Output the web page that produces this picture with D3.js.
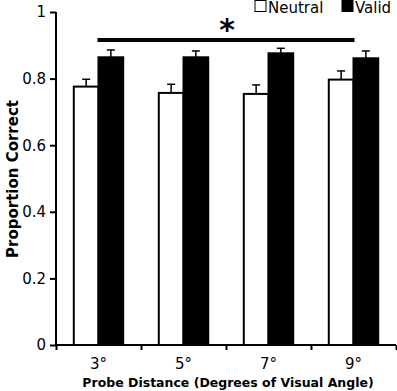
<!DOCTYPE html>
<html>
<head>
<meta charset="utf-8">
<script src="https://cdn.jsdelivr.net/npm/d3@7"></script>
<style>
  body { margin: 0; background: #fff; }
  text { font-family: "DejaVu Sans", Verdana, sans-serif; }
</style>
</head>
<body>
<div id="chart"></div>
<script>
const w = 397
const h = 391

const categories = ['3°', '5°', '7°', '9°']
const series = ['Neutral', 'Valid']
const neutral = [0.776, 0.757, 0.754, 0.797]
const valid = [0.864, 0.864, 0.876, 0.861]
const neutralErr = [0.022, 0.026, 0.027, 0.026]
const validErr = [0.022, 0.019, 0.015, 0.022]
const yTicks = [0, 0.2, 0.4, 0.6, 0.8, 1]

const margin = { left: 56, right: 1, top: 12, bottom: 46 }

const svg = d3.select('#chart')
    .append('svg')
    .attr('width', w)
    .attr('height', h)

const xScale = d3.scaleBand()
    .domain(categories)
    .range([margin.left, w - margin.right])

const sub = d3.scaleBand()
    .domain(series)
    .range([0, xScale.bandwidth()])
    .paddingOuter(0.72)

const yScale = d3.scaleLinear()
    .domain([0, 1])
    .range([h - margin.bottom, margin.top])

const rows = categories.map((c, i) => [
    { cat: c, s: 'Neutral', v: neutral[i], e: neutralErr[i] },
    { cat: c, s: 'Valid', v: valid[i], e: validErr[i] }
]).flat()

// error bars (drawn first so bars sit over the lower half)
const eb = svg.append('g').selectAll('g')
    .data(rows)
    .enter()
    .append('g')
eb.append('line')
    .attr('x1', d => xScale(d.cat) + sub(d.s) + sub.bandwidth() / 2)
    .attr('x2', d => xScale(d.cat) + sub(d.s) + sub.bandwidth() / 2)
    .attr('y1', d => yScale(d.v))
    .attr('y2', d => yScale(d.v + d.e))
    .attr('stroke', '#000')
    .attr('stroke-width', 1.5)
eb.append('line')
    .attr('x1', d => xScale(d.cat) + sub(d.s) + sub.bandwidth() / 2 - 4)
    .attr('x2', d => xScale(d.cat) + sub(d.s) + sub.bandwidth() / 2 + 4)
    .attr('y1', d => yScale(d.v + d.e))
    .attr('y2', d => yScale(d.v + d.e))
    .attr('stroke', '#000')
    .attr('stroke-width', 1.5)

svg.append('g')
    .selectAll('rect')
    .data(rows)
    .enter()
    .append('rect')
    .attr('x', d => xScale(d.cat) + sub(d.s))
    .attr('y', d => yScale(d.v))
    .attr('width', sub.bandwidth())
    .attr('height', d => yScale(0) - yScale(d.v))
    .attr('fill', d => d.s === 'Valid' ? '#000' : '#fff')
    .attr('stroke', '#000')
    .attr('stroke-width', 2)

const yAxis = d3.axisLeft(yScale)
    .tickValues(yTicks)
    .tickFormat(d => d3.format('')(+d.toFixed(1)))
    .tickSize(6)
    .tickPadding(4)

svg.append('g')
    .attr('transform', `translate(${margin.left}, 0)`)
    .call(yAxis)
    .call(g => g.select('.domain').attr('stroke-width', 2).attr('d', `M0,${yScale(1)}V${yScale(0)}`))
    .call(g => g.selectAll('.tick line').attr('stroke-width', 2))
    .call(g => g.selectAll('.tick text').attr('font-size', 15).attr('fill', '#000'))

// x axis: ticks sit between categories
const xAxis = d3.axisBottom(d3.scaleLinear().domain([0, 4]).range([margin.left, w - margin.right]))
    .tickValues([0, 1, 2, 3, 4])
    .tickFormat('')
    .tickSize(5)

svg.append('g')
    .attr('transform', `translate(0, ${yScale(0)})`)
    .call(xAxis)
    .call(g => g.select('.domain').attr('stroke-width', 2).attr('d', `M${margin.left},0H${w - margin.right}`))
    .call(g => g.selectAll('.tick line').attr('stroke-width', 2))

svg.append('g')
    .selectAll('text')
    .data(categories)
    .enter()
    .append('text')
    .attr('x', d => xScale(d) + xScale.bandwidth() / 2)
    .attr('y', 369)
    .attr('text-anchor', 'middle')
    .attr('font-size', 15)
    .text(d => d)

svg.append('text')
    .attr('x', 228)
    .attr('y', 387)
    .attr('text-anchor', 'middle')
    .attr('font-size', 12.5)
    .attr('font-weight', 'bold')
    .text('Probe Distance (Degrees of Visual Angle)')

svg.append('text')
    .attr('transform', 'translate(18, 179) rotate(-90)')
    .attr('text-anchor', 'middle')
    .attr('font-size', 15)
    .attr('font-weight', 'bold')
    .text('Proportion Correct')

// significance bar: from first neutral bar's right edge to last neutral bar's right edge
svg.append('line')
    .attr('x1', xScale(categories[0]) + sub('Neutral') + sub.bandwidth() - 1)
    .attr('x2', xScale(categories[3]) + sub('Neutral') + sub.bandwidth() + 1)
    .attr('y1', 40)
    .attr('y2', 40)
    .attr('stroke', '#000')
    .attr('stroke-width', 4)

svg.append('text')
    .attr('x', 227)
    .attr('y', 40)
    .attr('text-anchor', 'middle')
    .attr('font-size', 30)
    .attr('font-weight', 'bold')
    .text('*')

// legend
const legend = svg.append('g')
const lx = [255, 342]
series.forEach((s, i) => {
    legend.append('rect')
        .attr('x', lx[i])
        .attr('y', 0.5)
        .attr('width', 11)
        .attr('height', 11)
        .attr('fill', s === 'Valid' ? '#000' : '#fff')
        .attr('stroke', '#000')
        .attr('stroke-width', 1)
    legend.append('text')
        .attr('x', lx[i] + 13)
        .attr('y', 13)
        .attr('font-size', 15)
        .text(s)
})
</script>
</body>
</html>
